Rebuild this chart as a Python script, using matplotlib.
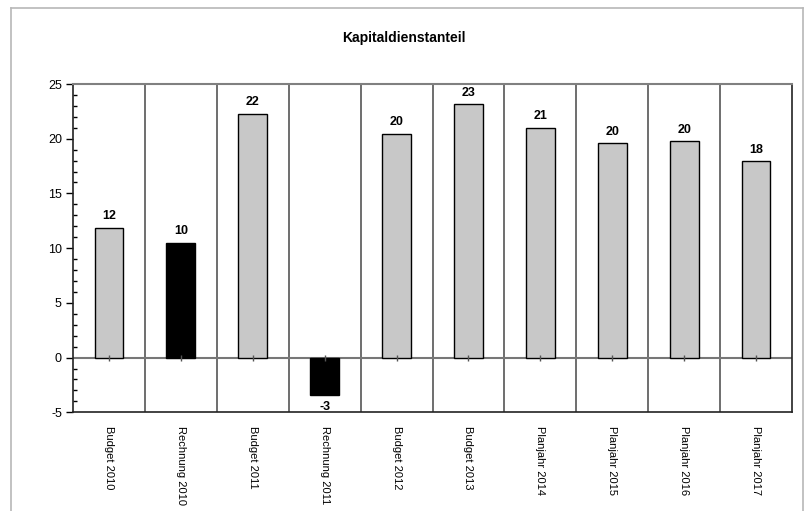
import matplotlib
matplotlib.use("Agg")
import matplotlib.pyplot as plt
from matplotlib.lines import Line2D
from matplotlib.ticker import MultipleLocator, FixedLocator

plt.rcParams['font.family'] = ['Liberation Sans', 'DejaVu Sans']
plt.rcParams['axes.unicode_minus'] = False

categories = ["Budget 2010", "Rechnung 2010", "Budget 2011", "Rechnung 2011",
              "Budget 2012", "Budget 2013", "Planjahr 2014", "Planjahr 2015",
              "Planjahr 2016", "Planjahr 2017"]
values = [11.84, 10.48, 22.27, -3.46, 20.44, 23.15, 20.99, 19.6, 19.76, 17.93]
kinds = ["Budget", "Rechnung", "Budget", "Rechnung", "Budget", "Budget",
         "Plan", "Plan", "Plan", "Plan"]
title = "Kapitaldienstanteil"

color_map = {"Budget": "#c8c8c8", "Rechnung": "#000000", "Plan": "#c8c8c8"}
colors = [color_map[k] for k in kinds]

W, H = 808, 511
fig = plt.figure(figsize=(W / 100, H / 100), dpi=100)
ax = fig.add_axes([73 / W, 1 - 412.3 / H, (792 - 73) / W, (412.3 - 84) / H])

x = list(range(len(categories)))
bars = ax.bar(x, values, width=0.4, color=colors, edgecolor="black", linewidth=1.0, zorder=3)
ax.bar_label(bars, fmt="%.0f", padding=4, fontsize=9, fontweight="bold")

ax.set_xlim(-0.5, len(categories) - 0.5)
ax.set_ylim(-5, 25)
ax.yaxis.set_major_locator(MultipleLocator(5))
ax.yaxis.set_minor_locator(MultipleLocator(1))
ax.tick_params(axis="y", which="major", direction="out", length=5, width=1, labelsize=9, pad=3)
ax.tick_params(axis="y", which="minor", direction="in", length=3, width=1)

ax.set_xticks(x)
ax.set_xticklabels(categories, rotation=270, fontsize=8)
ax.tick_params(axis="x", which="major", length=0, pad=10)
ax.xaxis.set_minor_locator(FixedLocator([i + 0.5 for i in x[:-1]]))
ax.tick_params(axis="x", which="minor", length=0)
ax.grid(axis="x", which="minor", color="#555555", linewidth=1.2, zorder=1)

ax.axhline(0, color="#777777", linewidth=1.5, zorder=2)
ax.plot(x, [0] * len(x), linestyle="none", marker="|", markersize=5, color="#555555", zorder=4)

ax.spines["top"].set_color("#808080")
ax.spines["top"].set_linewidth(1.5)
for s in ["left", "right", "bottom"]:
    ax.spines[s].set_color("#222222")
    ax.spines[s].set_linewidth(1.2)

fig.text(404 / W, 1 - 38 / H, title, ha="center", va="center", fontsize=10, fontweight="bold")

border_c = "#b8b8b8"
fig.add_artist(Line2D([11 / W, 11 / W], [0, 1 - 8 / H], transform=fig.transFigure, color=border_c, lw=1.2))
fig.add_artist(Line2D([11 / W, 803 / W], [1 - 8 / H, 1 - 8 / H], transform=fig.transFigure, color=border_c, lw=1.2))
fig.add_artist(Line2D([803 / W, 803 / W], [0, 1 - 8 / H], transform=fig.transFigure, color=border_c, lw=1.2))

fig.savefig("out.png", dpi=100)
